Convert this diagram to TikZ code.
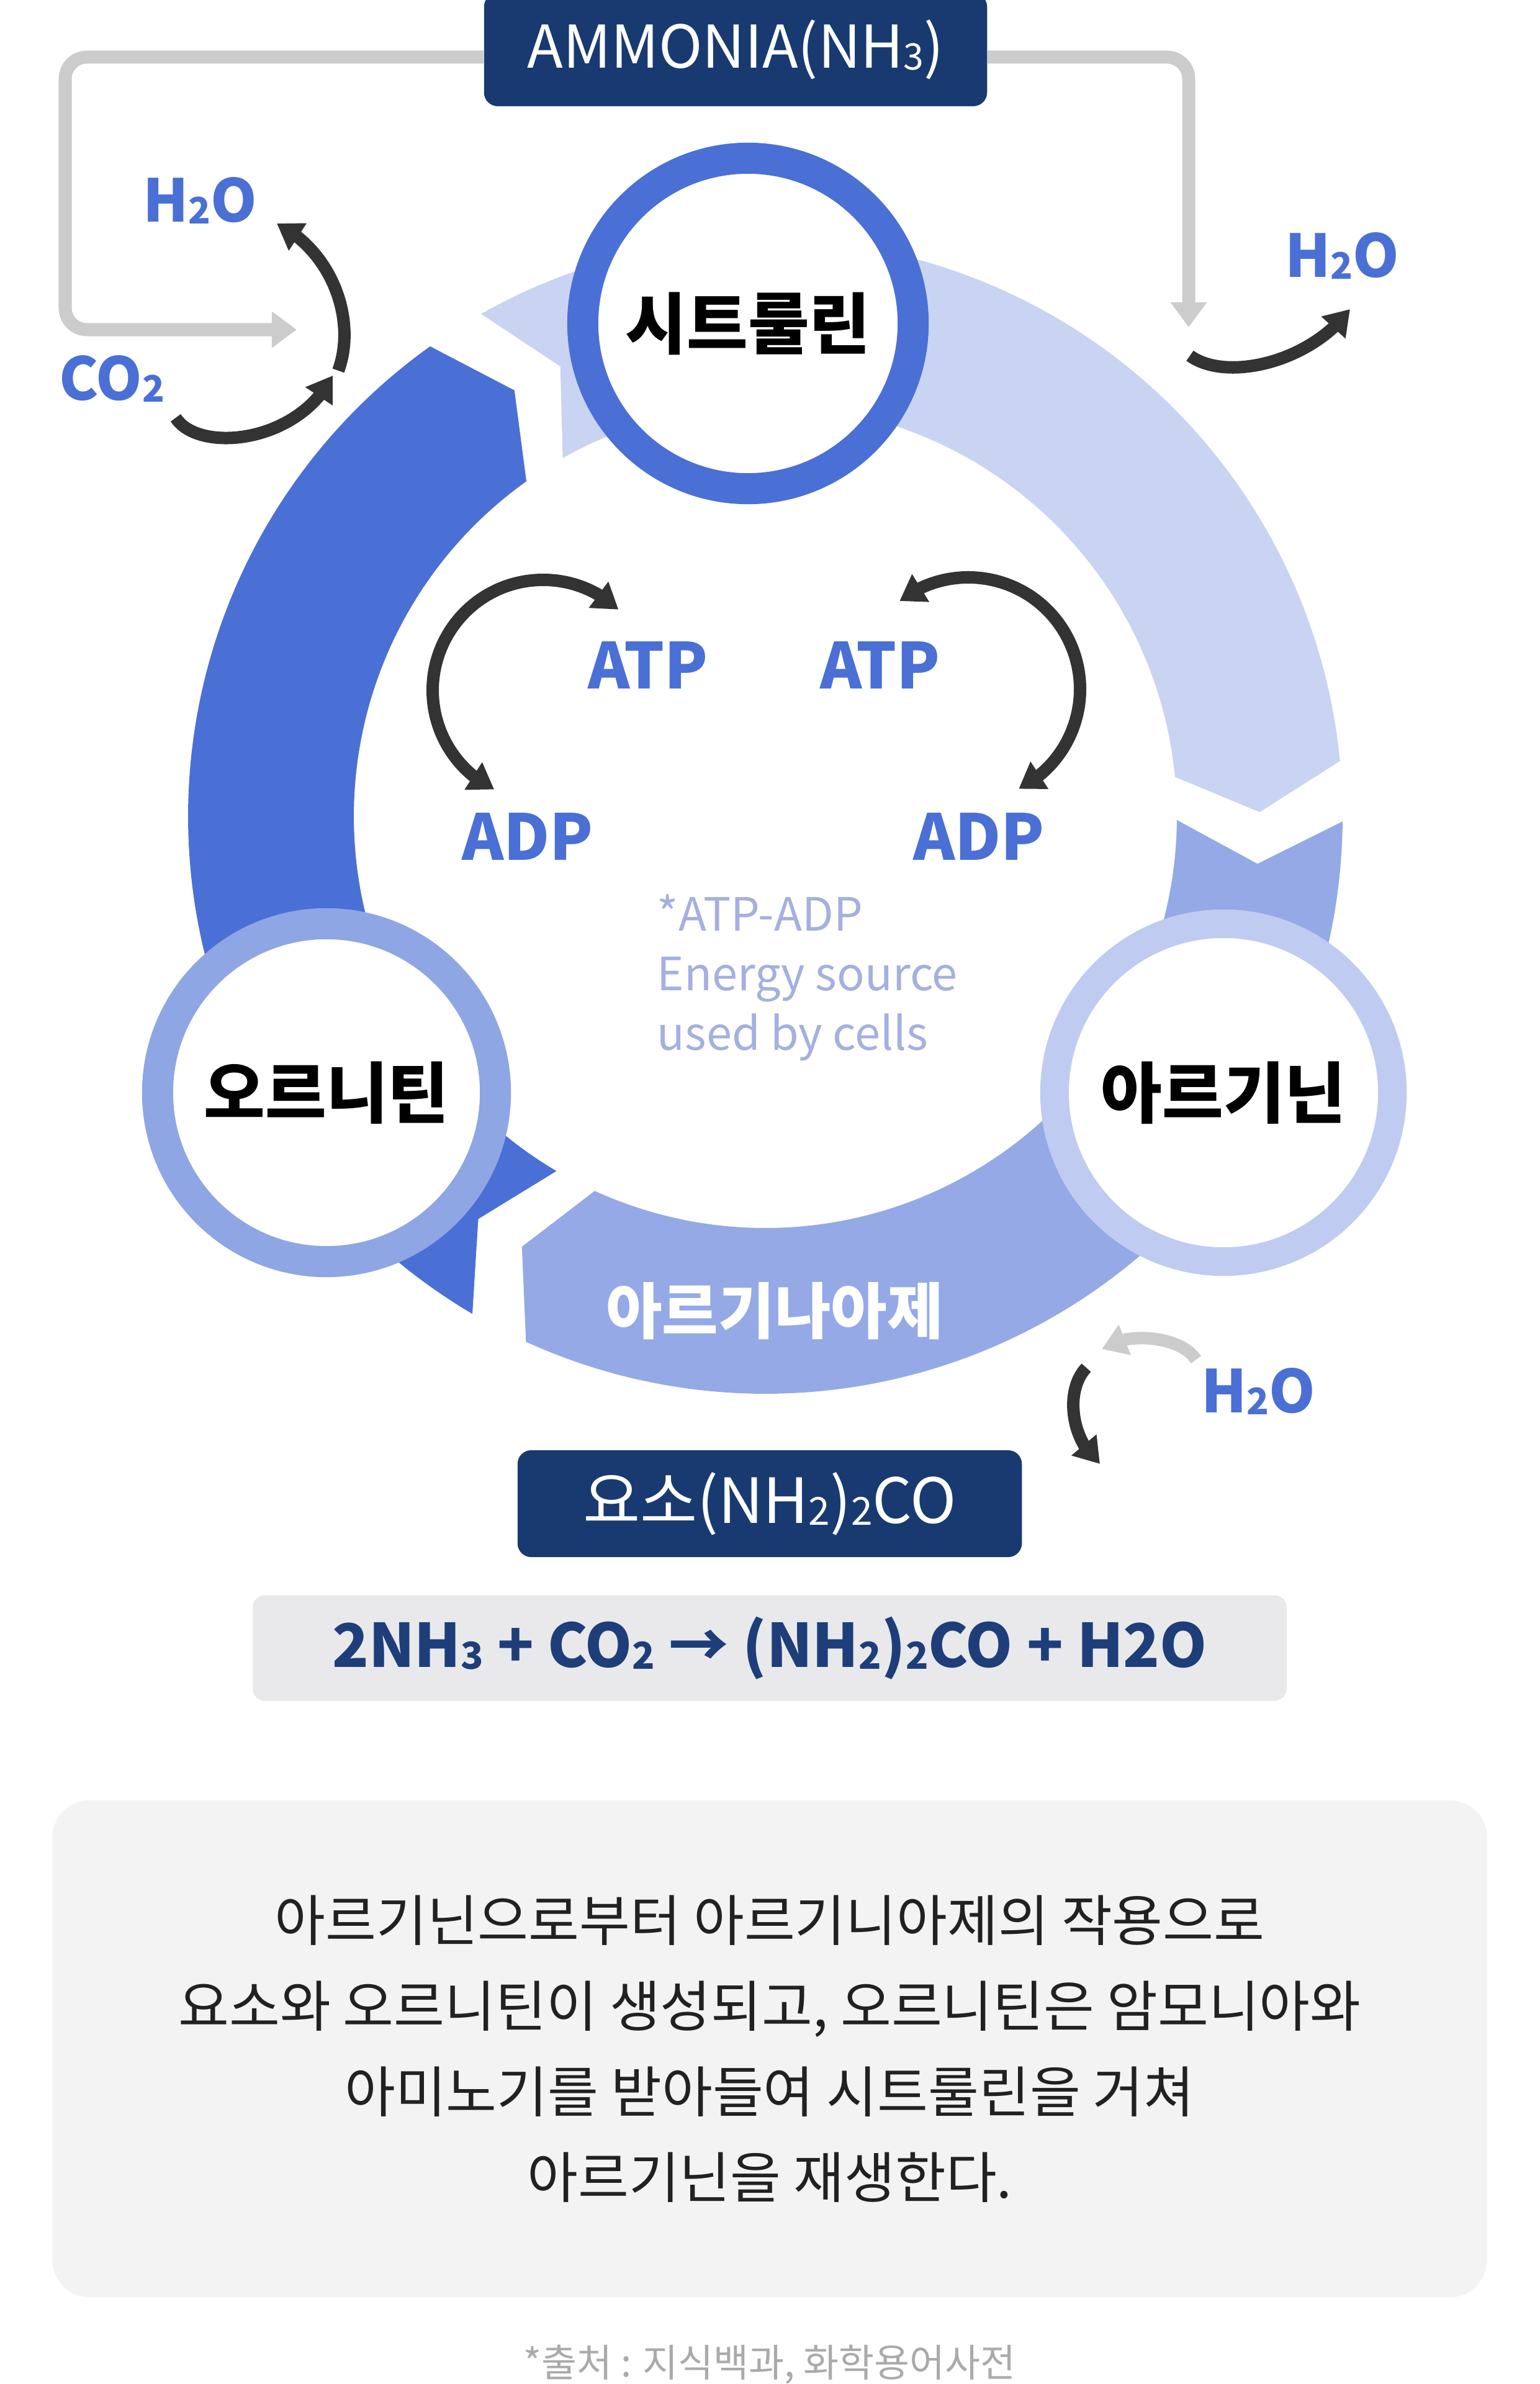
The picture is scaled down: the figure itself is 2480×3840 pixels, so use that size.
\documentclass[tikz,border=0pt]{standalone}
\usepackage{fontspec}
\usepackage{graphicx}
\setmainfont{Noto Sans CJK KR}
\usetikzlibrary{arrows.meta,positioning,calc,bending}

\definecolor{navy}{RGB}{24,58,112}
\definecolor{eqnavy}{RGB}{30,62,122}
\definecolor{segdark}{RGB}{74,112,214}
\definecolor{segmed}{RGB}{148,169,230}
\definecolor{seglight}{RGB}{201,212,243}
\definecolor{ringorn}{RGB}{143,166,228}
\definecolor{ringarg}{RGB}{191,203,241}
\definecolor{chemblue}{RGB}{74,111,213}
\definecolor{notecol}{RGB}{165,176,224}
\definecolor{linegray}{RGB}{204,204,204}
\definecolor{arcblack}{RGB}{51,51,51}
\definecolor{eqbox}{RGB}{233,233,235}
\definecolor{notebox}{RGB}{243,243,243}
\definecolor{srcgray}{RGB}{170,170,170}
\newcommand\chsub[1]{\raisebox{-0.03em}{\scalebox{0.62}{#1}}}

\begin{document}
\begin{tikzpicture}[x=0.01cm, y=-0.01cm, every node/.style={inner sep=0pt},
  bubble/.style={circle, fill=white, font=\fontsize{30.5pt}{32pt}\selectfont\bfseries},
  chem/.style={text=chemblue, font=\fontsize{27pt}{29pt}\selectfont\bfseries},
  nuc/.style={text=chemblue, font=\fontsize{29pt}{31pt}\selectfont\bfseries},
  darkbox/.style={fill=navy, rounded corners=0.22cm, text=white},
  cyc/.style={draw=arcblack, line width=0.2cm},
  feed/.style={draw=linegray, line width=0.21cm, rounded corners=0.35cm},
  >={Triangle[length=0.4cm, width=0.5cm]}]
\useasboundingbox (0,0) rectangle (2480,3840);
\fill[white] (0,0) rectangle (2480,3840);
\coordinate (c) at (1233,1315);
\foreach \s/\col in {0.5/segmed, 120.5/segdark, 240.5/seglight}
  \fill[\col] ($(c)+(\s:930)$) arc[start angle=\s, end angle=\s+114, radius=930]
    -- ($(c)+(\s+119:796.5)$) -- ($(c)+(\s+114:663)$)
    arc[start angle=\s+114, end angle=\s, radius=663]
    -- ($(c)+(\s+5:796.5)$) -- cycle;
\node[bubble, draw=segdark, line width=0.5cm, minimum size=5.32cm] (cit) at (1205,521) {시트룰린};
\node[bubble, draw=ringorn, line width=0.5cm, minimum size=5.44cm] (orn) at (526,1760) {오르니틴};
\node[bubble, draw=ringarg, line width=0.46cm, minimum size=5.44cm] (arg) at (1971,1760) {아르기닌};
\node[text=white, font=\fontsize{28pt}{30pt}\selectfont\bfseries] (ase) at (1248,2112) {아르기나아제};
\node[darkbox, minimum width=8.1cm, minimum height=1.82cm, font=\fontsize{27pt}{29pt}\selectfont] (amm) at (1185,80) {AMMONIA(NH\chsub{3})};
\coordinate (lt) at (105,92);
\coordinate (lb) at (105,531);
\coordinate (co2in) at (478,531);
\draw[feed, -{Triangle[length=0.4cm, width=0.56cm]}] (amm.west |- lt) -- (lt) -- (lb) -- (co2in);
\coordinate (rt) at (1915,92);
\coordinate (nh3in) at (1915,527);
\draw[feed, -{Triangle[length=0.4cm, width=0.56cm]}] (amm.east |- rt) -- (rt) -- (nh3in);
\node[chem] (h2oL) at (322,323) {H\chsub{2}O};
\node[chem] (co2) at (180,610) {CO\chsub{2}};
\node[chem] (h2oR) at (2162,412) {H\chsub{2}O};
\node[chem] (h2oB) at (2027,2241) {H\chsub{2}O};
\coordinate (w1) at (545,597);
\coordinate (w2) at (446,360);
\draw[cyc, ->] (w1) .. controls (575,515) and (535,405) .. (w2);
\coordinate (k1) at (283,673);
\coordinate (k2) at (536,605);
\draw[cyc, ->] (k1) .. controls (320,730) and (480,715) .. (k2);
\coordinate (r1) at (1917,573);
\coordinate (r2) at (2175,498);
\draw[cyc, ->] (r1) .. controls (1975,615) and (2110,585) .. (r2);
\coordinate (g1) at (1927,2190);
\coordinate (g2) at (1775,2173);
\draw[draw=linegray, line width=0.2cm, ->] (g1) .. controls (1900,2150) and (1810,2145) .. (g2);
\coordinate (b1) at (1750,2203);
\coordinate (b2) at (1772,2358);
\draw[cyc, ->] (b1) .. controls (1715,2240) and (1725,2320) .. (b2);
\node[nuc] (atpL) at (1044,1072) {ATP};
\node[nuc] (adpL) at (850,1348) {ADP};
\node[nuc] (atpR) at (1418,1072) {ATP};
\node[nuc] (adpR) at (1577,1348) {ADP};
\coordinate (lc) at (875,1112);
\draw[cyc, <->] ($(lc)+(-47:178)$) arc[start angle=-47, end angle=-243.7, radius=178];
\coordinate (rc) at (1560,1110);
\draw[cyc, <->] ($(rc)+(-128:180)$) arc[start angle=-128, end angle=63.2, radius=180];
\node[anchor=north west, align=left, text=notecol, font=\fontsize{21pt}{27.3pt}\selectfont] (energy) at (1058,1440) {*ATP-ADP\\Energy source\\used by cells};
\node[darkbox, minimum width=8.12cm, minimum height=1.72cm, font=\fontsize{28.5pt}{30pt}\selectfont] (urea) at (1240,2422) {요소(NH\chsub{2})\chsub{2}CO};
\node[fill=eqbox, rounded corners=0.2cm, minimum width=16.65cm, minimum height=1.7cm, text=eqnavy, font=\fontsize{27.5pt}{30pt}\selectfont\bfseries, below=0.6cm of urea] (eqn) {2NH\chsub{3} + CO\chsub{2} → (NH\chsub{2})\chsub{2}CO + H2O};
\node[fill=notebox, rounded corners=0.6cm, minimum width=23.1cm, minimum height=8cm, align=center, text=black!87, font=\fontsize{25.3pt}{39.3pt}\selectfont] (note) at (1240,3300) {아르기닌으로부터 아르기니아제의 작용으로\\요소와 오르니틴이 생성되고, 오르니틴은 암모니아와\\아미노기를 받아들여 시트룰린을 거쳐\\아르기닌을 재생한다.};
\node[anchor=north, text=srcgray, font=\fontsize{17.6pt}{20pt}\selectfont] (src) at (1240,3776) {*출처 : 지식백과, 화학용어사전};
\end{tikzpicture}
\end{document}
